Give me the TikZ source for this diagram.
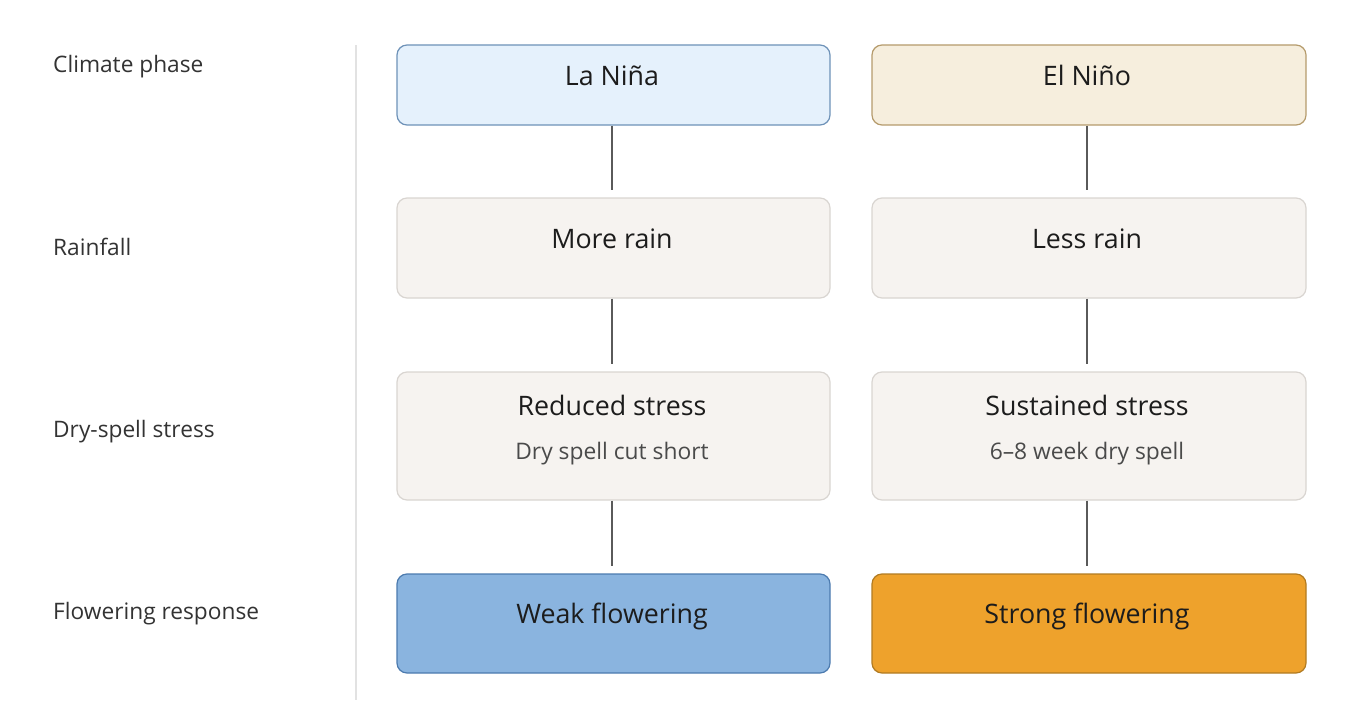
\documentclass[tikz,border=0pt]{standalone}
\usepackage{fontspec}
\setmainfont{Open Sans}
\definecolor{txt}{HTML}{1C1C1C}
\definecolor{subtxt}{HTML}{4A4A4A}
\definecolor{labtxt}{HTML}{333333}
\definecolor{sep}{HTML}{E2E2E2}
\definecolor{conn}{HTML}{5A5A5A}
\definecolor{lnfill}{HTML}{E5F1FC}
\definecolor{lnborder}{HTML}{6E92B8}
\definecolor{enfill}{HTML}{F6EEDD}
\definecolor{enborder}{HTML}{B59B6C}
\definecolor{midfill}{HTML}{F6F3F0}
\definecolor{midborder}{HTML}{D9D5D1}
\definecolor{weakfill}{HTML}{8AB4DF}
\definecolor{weakborder}{HTML}{4C7BAF}
\definecolor{strongfill}{HTML}{EEA22C}
\definecolor{strongborder}{HTML}{B17B22}
\tikzset{
  card/.style={rectangle, rounded corners=10pt, line width=1.2pt, inner sep=0pt},
  rowlabel/.style={anchor=base west, inner sep=0pt, text=labtxt, font=\fontsize{22.7}{26}\selectfont},
  title/.style={anchor=base, inner sep=0pt, text=txt, font=\fontsize{26.8}{30}\selectfont},
  subtitle/.style={anchor=base, inner sep=0pt, text=subtxt, font=\fontsize{22.8}{26}\selectfont},
  link/.style={draw=conn, line width=2pt},
}
\begin{document}
\begin{tikzpicture}[x=1pt,y=-1pt]
\useasboundingbox (0,0) rectangle (1366,701);
% separator
\draw[sep, line width=1.5pt] (356,45) -- (356,700);
% row labels
\node[rowlabel] (l1) at (53,73) {Climate phase};
\node[rowlabel] (l2) at (53,255) {Rainfall};
\node[rowlabel] (l3) at (53,437) {Dry-spell stress};
\node[rowlabel] (l4) at (53,619) {Flowering response};
% boxes column 1
\node[card, draw=lnborder, fill=lnfill, minimum width=433pt, minimum height=80pt] (a1) at (613.5,85) {};
\node[card, draw=midborder, fill=midfill, minimum width=433pt, minimum height=100pt] (a2) at (613.5,248) {};
\node[card, draw=midborder, fill=midfill, minimum width=433pt, minimum height=128pt] (a3) at (613.5,436) {};
\node[card, draw=weakborder, fill=weakfill, minimum width=433pt, minimum height=99pt] (a4) at (613.5,623.5) {};
% boxes column 2
\node[card, draw=enborder, fill=enfill, minimum width=434pt, minimum height=80pt] (b1) at (1089,85) {};
\node[card, draw=midborder, fill=midfill, minimum width=434pt, minimum height=100pt] (b2) at (1089,248) {};
\node[card, draw=midborder, fill=midfill, minimum width=434pt, minimum height=128pt] (b3) at (1089,436) {};
\node[card, draw=strongborder, fill=strongfill, minimum width=434pt, minimum height=99pt] (b4) at (1089,623.5) {};
% texts
\node[title] (ta1) at (612,85) {La Niña};
\node[title] (ta2) at (612,248) {More rain};
\node[title] (ta3) at (612,415) {Reduced stress};
\node[subtitle] (sa3) at (612,459) {Dry spell cut short};
\node[title] (ta4) at (612,623) {Weak flowering};
\node[title] (tb1) at (1087,85) {El Niño};
\node[title] (tb2) at (1087,248) {Less rain};
\node[title] (tb3) at (1087,415) {Sustained stress};
\node[subtitle] (sb3) at (1087,459) {6–8 week dry spell};
\node[title] (tb4) at (1087,623) {Strong flowering};
% connectors
\coordinate (ea2) at (612,190);
\coordinate (ea3) at (612,364);
\coordinate (ea4) at (612,566);
\coordinate (eb2) at (1087,190);
\coordinate (eb3) at (1087,364);
\coordinate (eb4) at (1087,566);
\draw[link] (a1.south -| ea2) -- (ea2);
\draw[link] (a2.south -| ea3) -- (ea3);
\draw[link] (a3.south -| ea4) -- (ea4);
\draw[link] (b1.south -| eb2) -- (eb2);
\draw[link] (b2.south -| eb3) -- (eb3);
\draw[link] (b3.south -| eb4) -- (eb4);
\end{tikzpicture}
\end{document}
